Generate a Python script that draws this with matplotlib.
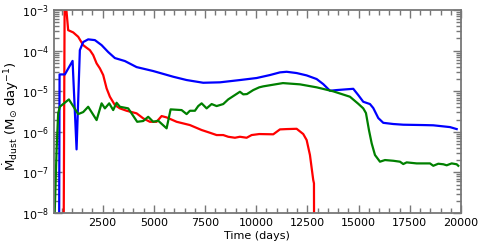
import matplotlib
matplotlib.use("Agg")
import matplotlib.pyplot as plt
from matplotlib.ticker import LogLocator, MultipleLocator, NullFormatter

# Blue series
t_blue = [370, 400, 659, 1035, 1230, 1390, 1553, 1797, 2125, 2452, 2774, 3101, 3590,
          4161, 4972, 5949, 6603, 7414, 8230, 9206, 10022, 10671, 11160, 11487, 11975,
          12464, 12952, 13275, 13602, 13929, 14740, 14984, 15228, 15556, 15717, 15961,
          16205, 16693, 17182, 18159, 18647, 19463, 19790]
m_blue = [1e-10, 2.6e-5, 2.6e-5, 5.6e-5, 3.7e-7, 1.03e-4, 1.63e-4, 1.90e-4, 1.82e-4,
          1.37e-4, 9.25e-5, 6.58e-5, 5.55e-5, 3.94e-5, 3.15e-5, 2.28e-5, 1.89e-5,
          1.62e-5, 1.66e-5, 1.89e-5, 2.12e-5, 2.51e-5, 2.92e-5, 3.02e-5, 2.81e-5,
          2.46e-5, 2.0e-5, 1.50e-5, 1.03e-5, 1.07e-5, 1.15e-5, 8.06e-6, 5.51e-6,
          4.84e-6, 3.86e-6, 2.19e-6, 1.67e-6, 1.56e-6, 1.50e-6, 1.47e-6, 1.45e-6,
          1.31e-6, 1.17e-6]

# Green series
t_green = [120, 171, 254, 332, 415, 855, 1309, 1553, 1797, 2208, 2452, 2613, 2823, 3018,
           3184, 3346, 3751, 4190, 4484, 4728, 4972, 5216, 5626, 5822, 6359, 6603, 6764,
           7009, 7170, 7336, 7580, 7824, 8068, 8391, 8635, 9206, 9368, 9548, 9856, 10149,
           10344, 11000, 11306, 12137, 12952, 13763, 14579, 14984, 15228, 15360, 15507,
           15639, 15800, 16044, 16288, 16693, 17021, 17182, 17348, 17836, 18486, 18647,
           18891, 19136, 19302, 19546, 19790, 19868]
m_green = [2e-9, 1.43e-8, 3.56e-7, 2.86e-6, 4.17e-6, 6.3e-6, 2.74e-6, 3.07e-6, 4.15e-6,
           1.95e-6, 5.04e-6, 3.79e-6, 5.04e-6, 3.44e-6, 5.21e-6, 4.15e-6, 3.79e-6,
           1.77e-6, 1.85e-6, 2.35e-6, 1.77e-6, 1.88e-6, 1.22e-6, 3.58e-6, 3.44e-6,
           2.74e-6, 3.31e-6, 3.31e-6, 4.32e-6, 5.04e-6, 3.79e-6, 4.84e-6, 4.32e-6,
           4.84e-6, 6.31e-6, 9.72e-6, 8.39e-6, 8.53e-6, 1.07e-5, 1.25e-5, 1.32e-5,
           1.50e-5, 1.59e-5, 1.48e-5, 1.25e-5, 9.96e-6, 7.33e-6, 4.92e-6, 3.79e-6,
           2.9e-6, 1.1e-6, 5.21e-7, 2.69e-7, 1.84e-7, 2.02e-7, 1.94e-7, 1.84e-7,
           1.61e-7, 1.77e-7, 1.67e-7, 1.67e-7, 1.46e-7, 1.64e-7, 1.59e-7, 1.50e-7,
           1.67e-7, 1.59e-7, 1.46e-7]

# Red series
t_red = [570, 650, 820, 1065, 1309, 1553, 1719, 1880, 2041, 2208, 2369, 2530, 2696, 2857,
         3101, 3346, 3673, 4161, 4484, 4811, 5138, 5382, 5626, 6115, 6764, 7336, 7741,
         8068, 8391, 8635, 8962, 9206, 9534, 9778, 10149, 10833, 11160, 11487, 11975,
         12298, 12464, 12625, 12786, 12821, 12845]
m_red = [1e-12, 3e-3, 3.2e-4, 2.82e-4, 2.2e-4, 1.37e-4, 1.18e-4, 1.03e-4, 7.8e-5, 4.86e-5,
         3.66e-5, 2.51e-5, 1.18e-5, 7.33e-6, 4.57e-6, 3.79e-6, 3.31e-6, 2.86e-6,
         2.15e-6, 1.77e-6, 1.77e-6, 2.45e-6, 2.27e-6, 1.77e-6, 1.47e-6, 1.11e-6,
         9.5e-7, 8.34e-7, 8.34e-7, 7.57e-7, 7.16e-7, 7.57e-7, 7.16e-7, 8.34e-7,
         8.83e-7, 8.7e-7, 1.15e-6, 1.17e-6, 1.19e-6, 8.83e-7, 6.28e-7, 2.69e-7,
         6.5e-8, 5.4e-8, 1e-12]

x_ticks = [2500, 5000, 7500, 10000, 12500, 15000, 17500, 20000]

fig = plt.figure(figsize=(4.85, 2.46), dpi=100)
ax = fig.add_axes([0.111, 0.134, 0.8395, 0.825])

ax.plot(t_red, m_red, color='#ff0000', lw=1.6)
ax.plot(t_blue, m_blue, color='#0000ff', lw=1.6)
ax.plot(t_green, m_green, color='#008000', lw=1.6)

ax.set_yscale('log')
ax.set_xlim(120, 20000)
ax.set_ylim(1e-8, 1e-3)
ax.set_xticks(x_ticks)
ax.set_xticklabels([str(v) for v in x_ticks])
ax.xaxis.set_minor_locator(MultipleLocator(500))
ax.yaxis.set_major_locator(LogLocator(base=10, numticks=20))
ax.yaxis.set_minor_locator(LogLocator(base=10, subs=range(2, 10), numticks=20))
ax.yaxis.set_minor_formatter(NullFormatter())

spine_col = '#777777'
for s in ax.spines.values():
    s.set_color(spine_col)
    s.set_linewidth(1.3)
ax.tick_params(which='both', direction='in', top=True, right=True,
               color=spine_col, labelsize=8, width=1.0)
ax.tick_params(which='major', length=6)
ax.tick_params(which='minor', length=3.5)

ax.set_xlabel('Time (days)', fontsize=8, labelpad=2)
ax.set_ylabel(r'$\dot{\mathrm{M}}_{\mathrm{dust}}$ (M$_{\odot}$ day$^{-1}$)', fontsize=9.5)
ax.yaxis.set_label_coords(-0.08, 0.48)

fig.savefig('out.png', dpi=100)
